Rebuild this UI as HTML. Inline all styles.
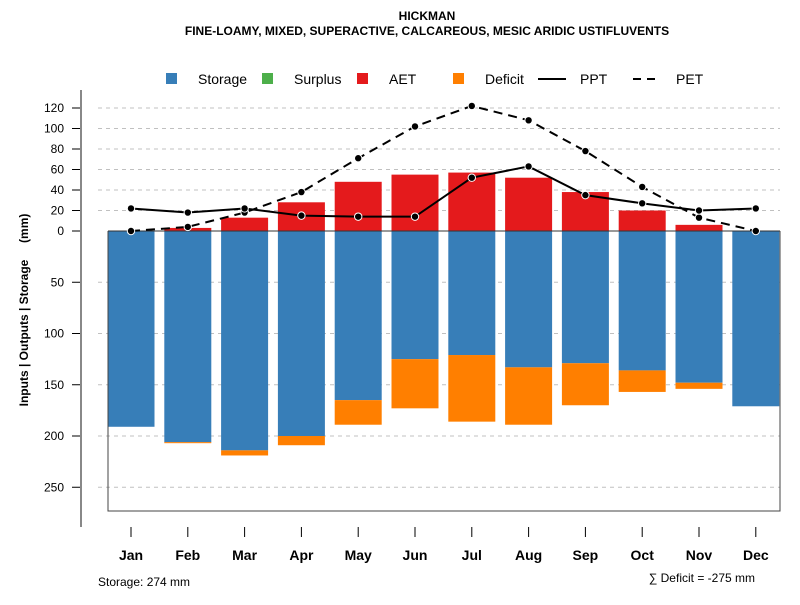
<!DOCTYPE html>
<html><head><meta charset="utf-8"><style>
body{margin:0;background:#fff;font-family:"Liberation Sans",sans-serif}
svg text{font-family:"Liberation Sans",sans-serif}
</style></head><body>
<svg id="c" width="800" height="600" xmlns="http://www.w3.org/2000/svg">
<text x="427" y="20" text-anchor="middle" font-size="12" font-weight="bold">HICKMAN</text>
<text x="427" y="35" text-anchor="middle" font-size="12" font-weight="bold">FINE-LOAMY, MIXED, SUPERACTIVE, CALCAREOUS, MESIC ARIDIC USTIFLUVENTS</text>
<g>
<g><rect x="166" y="73" width="11" height="11" fill="#377eb8"/><text x="198" y="84" font-size="14">Storage</text></g>
<g><rect x="262" y="73" width="11" height="11" fill="#4daf4a"/><text x="294" y="84" font-size="14">Surplus</text></g>
<g><rect x="357" y="73" width="11" height="11" fill="#e41a1c"/><text x="389" y="84" font-size="14">AET</text></g>
<g><rect x="453" y="73" width="11" height="11" fill="#ff7f00"/><text x="485" y="84" font-size="14">Deficit</text></g>
<g><line x1="538" y1="79" x2="566" y2="79" stroke="#000" stroke-width="2"/><text x="580" y="84" font-size="14">PPT</text></g>
<g><line x1="633" y1="79" x2="661" y2="79" stroke="#000" stroke-width="2" stroke-dasharray="8,6"/><text x="676" y="84" font-size="14">PET</text></g>
</g>
<text transform="translate(28,310) rotate(-90)" text-anchor="middle" font-size="12" font-weight="bold" xml:space="preserve" style="white-space:pre">Inputs | Outputs | Storage     (mm)</text>
<text x="98" y="586" font-size="12">Storage: 274 mm</text>
<text x="755" y="582" text-anchor="end" font-size="12">∑ Deficit = -275 mm</text>
<g id="grid"></g><g id="bars"></g><g id="axes"></g><g id="lines"></g>
</svg>
<script>
const months=["Jan","Feb","Mar","Apr","May","Jun","Jul","Aug","Sep","Oct","Nov","Dec"];
const storage=[191,206,214,200,165,125,121,133,129,136,148,171];
const deficit=[0,1,5,9,24,48,65,56,41,21,6,0];
const aet=[0,3,13,28,48,55,57,52,38,20,6,0];
const ppt=[22,18,22,15,14,14,52,63,35,27,20,22];
const pet=[0,4,18,38,71,102,122,108,78,43,13,0];
const posTicks=[0,20,40,60,80,100,120];
const negTicks=[50,100,150,200,250];
const NS="http://www.w3.org/2000/svg";
const y0=231,k=1.025;
const yv=v=>y0-v*k;
const xc=i=>131+i*56.8;
const bw=47;
function mk(tag,at,parent){const e=document.createElementNS(NS,tag);for(const a in at)e.setAttribute(a,at[a]);document.getElementById(parent).appendChild(e);return e;}
posTicks.concat(negTicks.map(v=>-v)).forEach(v=>{
 const y=yv(v);
 if(v!==0){const g=mk("line",{x1:98,x2:780,y1:y,y2:y,stroke:"#c0c0c0","stroke-dasharray":"4,4"},"grid");
 
 }
 const t=mk("line",{x1:72,x2:81,y1:y,y2:y,stroke:"#000"},"axes");
 
 
 const l=mk("text",{x:64,y:y+4,"text-anchor":"end","font-size":"12"},"axes");l.textContent=Math.abs(v);
 
 
});
months.forEach((m,i)=>{
 const x=xc(i)-bw/2;
 const s=mk("rect",{x:x,y:y0,width:bw,height:storage[i]*k,fill:"#377eb8"},"bars");
 
 
 if(deficit[i]>0){const d=mk("rect",{x:x,y:yv(-storage[i]),width:bw,height:deficit[i]*k,fill:"#ff7f00"},"bars");
 
 }
 if(aet[i]>0){const a=mk("rect",{x:x,y:yv(aet[i]),width:bw,height:aet[i]*k,fill:"#e41a1c"},"bars");
 
 }
 const t=mk("line",{x1:xc(i),x2:xc(i),y1:527,y2:537,stroke:"#000"},"axes");
 
 
 const l=mk("text",{x:xc(i),y:560,"text-anchor":"middle","font-size":"14","font-weight":"bold"},"axes");l.textContent=m;
 
 
});
const ax=mk("line",{x1:81,x2:81,y1:90,y2:527,stroke:"#888","stroke-width":2},"axes");


const box=mk("path",{d:"M108,231V511H780V231",fill:"none",stroke:"#444"},"axes");


const zl=mk("line",{x1:108,x2:780,y1:y0,y2:y0,stroke:"#333"},"axes");


function series(arr,name,dash){
 const p=mk("polyline",{points:arr.map((v,i)=>xc(i)+","+yv(v)).join(" "),fill:"none",stroke:"#000","stroke-width":2,"stroke-dasharray":dash},"lines");
 
 
 arr.forEach((v,i)=>{const c=mk("circle",{cx:xc(i),cy:yv(v),r:3.7,fill:"#000",stroke:"#fff","stroke-width":1},"lines");
 
 });
}
series(pet,"pet","9,6");
series(ppt,"ppt","none");
</script>
</body></html>
